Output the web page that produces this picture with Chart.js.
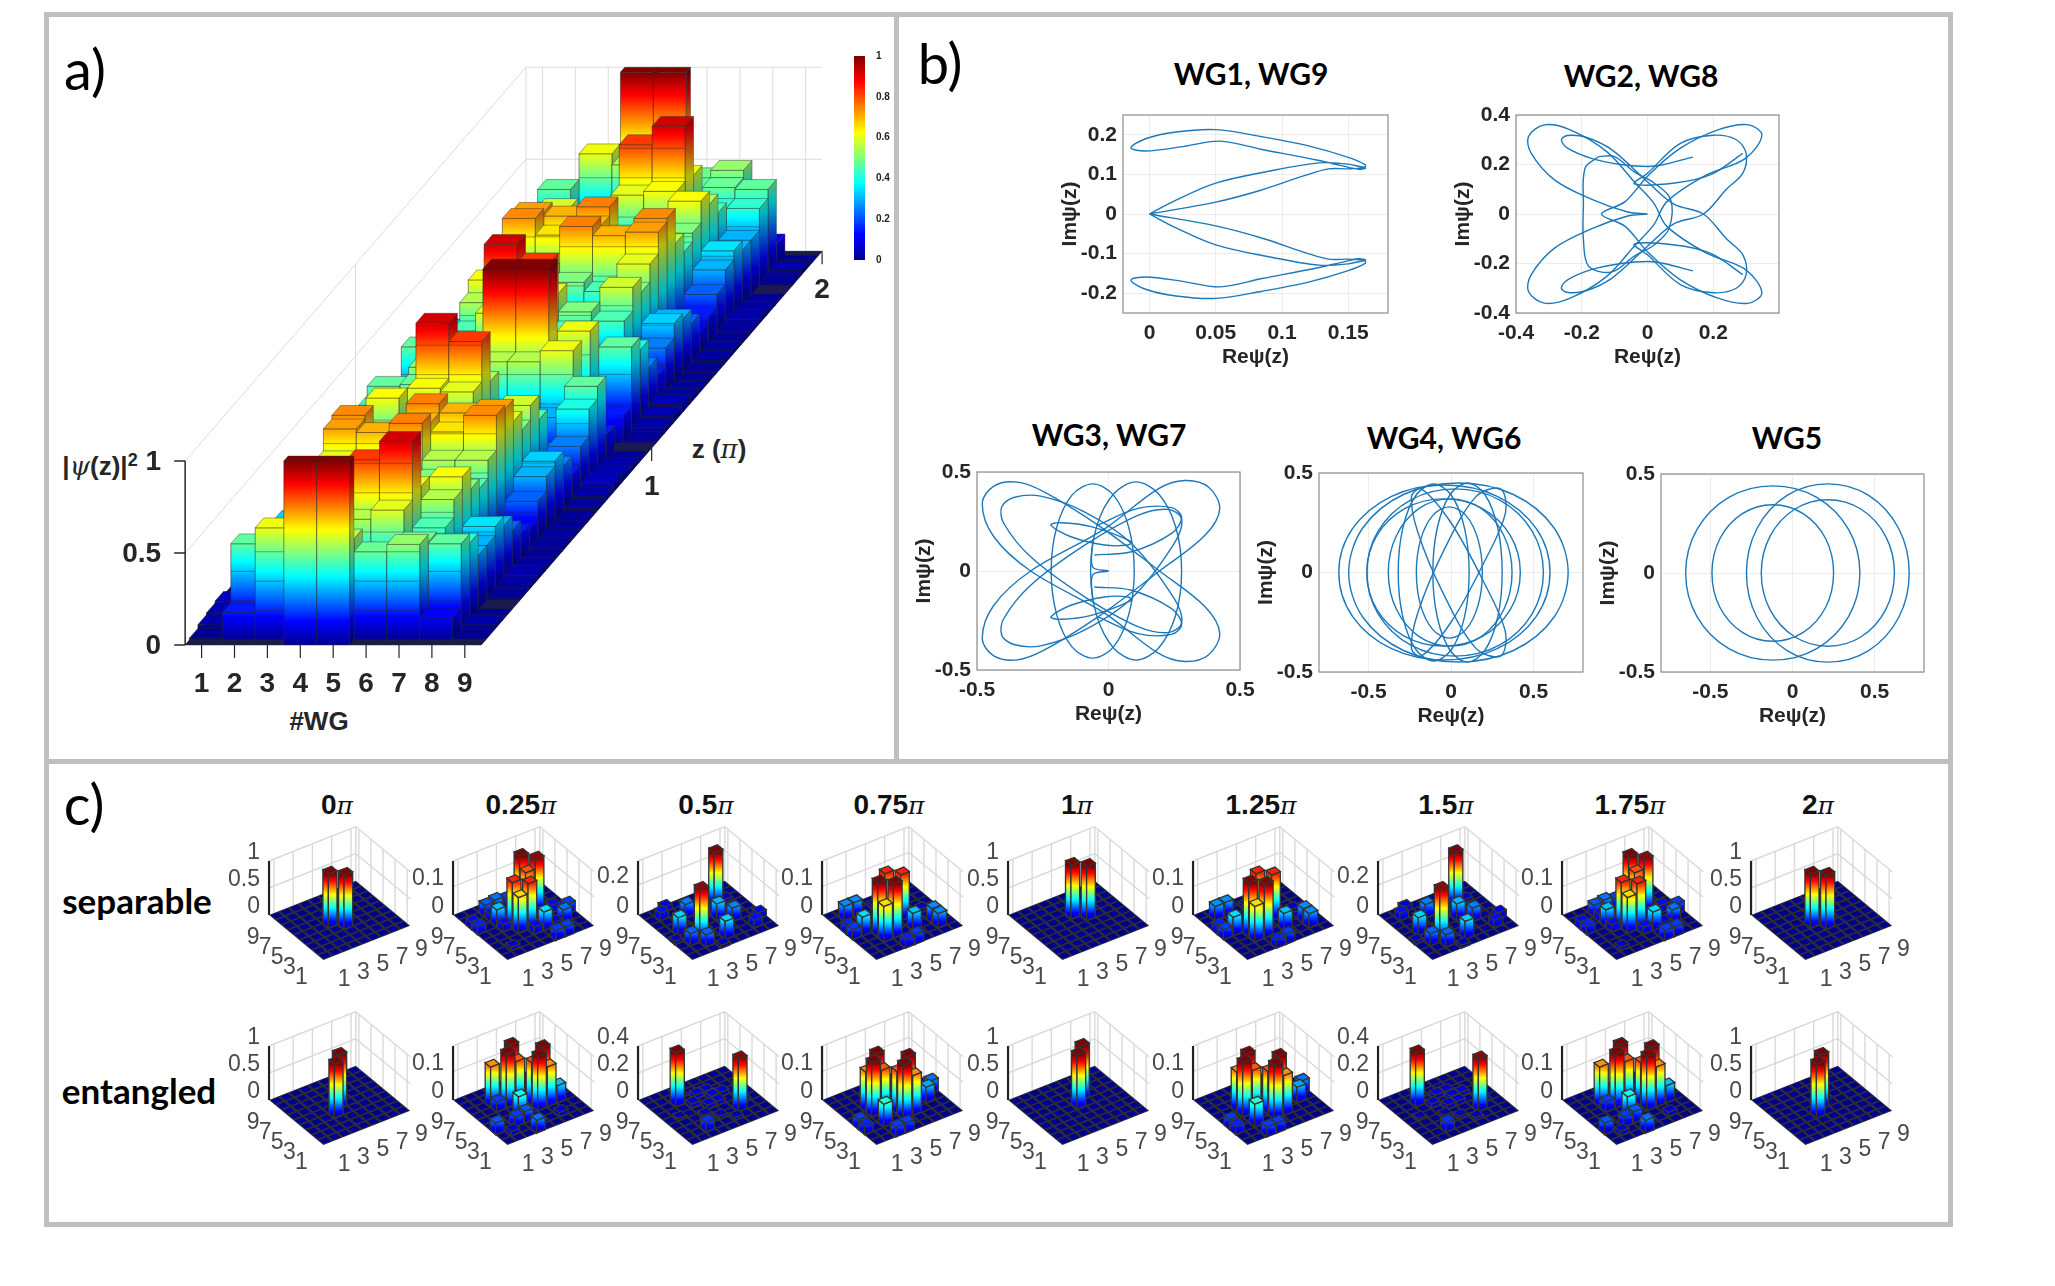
<!DOCTYPE html>
<html>
<head>
<meta charset="utf-8">
<title>Waveguide array</title>
<script src="https://cdn.jsdelivr.net/npm/chart.js@4"></script>
<style>
html, body { margin:0; padding:0; background:#fff; width:2055px; height:1286px; overflow:hidden; }
canvas { position:absolute; }
.frame { position:absolute; background:#bfbfbf; }
.lbl { position:absolute; transform:translate(-50%,-50%); white-space:nowrap; color:#000; }
.panel { font-family:Lato; font-size:56px; }
.wg { font-family:Lato; font-weight:700; font-size:30px; }
.row { font-family:Lato; font-weight:700; font-size:35px; }
.step { font-family:"Liberation Sans"; font-weight:700; font-size:28px; color:#111; }
.step i { font-family:"DejaVu Serif"; font-weight:400; font-size:25px; }
.ax { font-family:"Liberation Sans"; font-weight:700; font-size:26px; color:#262626; }
.ax i { font-family:"DejaVu Serif"; font-weight:400; }
</style>
</head>
<body>
<div class="frame" style="left:44px;top:12px;width:1909px;height:5px"></div>
<div class="frame" style="left:44px;top:1222px;width:1909px;height:5px"></div>
<div class="frame" style="left:44px;top:12px;width:5px;height:1215px"></div>
<div class="frame" style="left:1948px;top:12px;width:5px;height:1215px"></div>
<div class="frame" style="left:44px;top:759px;width:1909px;height:5px"></div>
<div class="frame" style="left:894px;top:12px;width:5px;height:750px"></div>
<div id="labels"></div>
<div id="charts"></div>
<script>
// ---- panel a: |psi(z)|^2 per waveguide, z = 0, 0.05, ... 2 (units of pi)
const zRows = [0,.05,.1,.15,.2,.25,.3,.35,.4,.45,.5,.55,.6,.65,.7,.75,.8,.85,.9,.95,1,1.05,1.1,1.15,1.2,1.25,1.3,1.35,1.4,1.45,1.5,1.55,1.6,1.65,1.7,1.75,1.8,1.85,1.9,1.95,2];
const wg1 = [0,.01,.03,.04,.05,.03,.02,.01,.01,.02,.02,.01,.02,.03,.02,.01,0,.01,.03,.005,0,.005,.03,.01,0,.01,.02,.03,.02,.01,.02,.02,.01,.01,.02,.03,.05,.04,.03,.01,0];
const wg2 = [0,.15,.47,.40,.25,.15,.25,.33,.30,.22,.12,.15,.22,.30,.35,.30,.30,.42,.47,.12,0,.12,.47,.42,.30,.30,.35,.30,.22,.15,.12,.22,.30,.33,.25,.15,.25,.40,.47,.15,0];
const wg3 = [0,.61,.30,.15,.22,.45,.58,.50,.60,.72,.74,.55,.45,.50,.62,.55,.45,.42,.48,.52,0,.52,.48,.42,.45,.55,.62,.50,.45,.55,.74,.72,.60,.50,.58,.45,.22,.15,.30,.61,0];
const wg4 = [1,.55,.25,.35,.45,.50,.42,.35,.45,.70,.65,.55,.50,.38,.45,.62,.92,.60,.35,.48,0,.48,.35,.60,.92,.62,.45,.38,.50,.55,.65,.70,.45,.35,.42,.50,.45,.35,.25,.55,1];
const wg5 = [1,.55,.30,.55,.82,.60,.40,.35,.50,.75,.70,.75,.50,.35,.40,.60,.82,.55,.30,.55,1,.55,.30,.55,.82,.60,.40,.35,.50,.75,.70,.75,.50,.35,.40,.60,.82,.55,.30,.55,1];
const wg6 = [0,.48,.35,.60,.92,.62,.45,.38,.50,.55,.65,.70,.45,.35,.42,.50,.45,.35,.25,.55,1,.55,.25,.35,.45,.50,.42,.35,.45,.70,.65,.55,.50,.38,.45,.62,.92,.60,.35,.48,0];
const wg7 = [0,.52,.48,.42,.45,.55,.62,.50,.45,.55,.74,.72,.60,.50,.58,.45,.22,.15,.30,.61,0,.61,.30,.15,.22,.45,.58,.50,.60,.72,.74,.55,.45,.50,.62,.55,.45,.42,.48,.52,0];
const wg8 = [0,.12,.47,.42,.30,.30,.35,.30,.22,.15,.12,.22,.30,.33,.25,.15,.25,.40,.47,.15,0,.15,.47,.40,.25,.15,.25,.33,.30,.22,.12,.15,.22,.30,.35,.30,.30,.42,.47,.12,0];
const wg9 = [0,.005,.03,.01,0,.01,.02,.03,.02,.01,.02,.02,.01,.01,.02,.03,.05,.04,.03,.01,0,.01,.03,.04,.05,.03,.02,.01,.01,.02,.02,.01,.02,.03,.02,.01,0,.01,.03,.005,0];
const wgColumns = [wg1,wg2,wg3,wg4,wg5,wg6,wg7,wg8,wg9];
const wgTicks = [1,2,3,4,5,6,7,8,9];
const heightTicks = [0,.5,1];
const zTicksA = [1,2];

// ---- panel b: Re/Im of psi along z, null = pen up
const curveWG1 = [[0,0],[.02,.035],[.05,.078],[.09,.108],[.128,.129],[.15,.126],[.162,.118],[.163,.124],[.15,.143],[.12,.172],[.085,.195],[.05,.213],[.02,.207],[-.003,.19],[-.014,.167],[-.003,.159],[.025,.17],[.053,.184],[.085,.163],[.128,.135],[.145,.122],[.158,.113],[.163,.116],[.15,.114],[.135,.114],[.118,.098],[.084,.06],[.05,.03],[0,0],null,
  [0,0],[.05,-.03],[.084,-.06],[.118,-.098],[.135,-.114],[.15,-.114],[.163,-.116],[.158,-.113],[.145,-.122],[.128,-.135],[.085,-.163],[.053,-.184],[.025,-.17],[-.003,-.159],[-.014,-.167],[-.003,-.19],[.02,-.207],[.05,-.213],[.085,-.195],[.12,-.172],[.15,-.143],[.163,-.124],[.162,-.118],[.15,-.126],[.128,-.129],[.09,-.108],[.05,-.078],[.02,-.035],[0,0]];
const curveWG2 = [[0,0],[-.06,.008],[-.171,.06],[-.283,.138],[-.354,.246],[-.362,.313],[-.314,.36],[-.235,.34],[-.124,.252],[-.037,.125],[.019,.044],[.059,-.05],[.178,-.157],[.297,-.224],[.348,-.318],[.305,-.361],[.21,-.338],[.098,-.264],[.003,-.157],[-.068,-.05],[-.14,0],[-.068,.05],[.003,.157],[.098,.264],[.21,.338],[.305,.361],[.348,.318],[.297,.224],[.178,.157],[.059,.05],[.019,-.044],[-.037,-.125],[-.124,-.252],[-.235,-.34],[-.314,-.36],[-.362,-.313],[-.354,-.246],[-.283,-.138],[-.171,-.06],[-.06,-.008],[0,0],null,
  [.138,.23],[.05,.2],[.003,.192],[-.076,.199],[-.171,.225],[-.243,.266],[-.262,.299],[-.243,.317],[-.187,.31],[-.108,.259],[0,.13],[.08,.04],[.17,0],[.24,-.1],[.29,-.165],[.3,-.245],[.27,-.3],[.2,-.318],[.1,-.285],[0,-.165],[-.04,-.122],[.083,-.125],[.194,-.16],[.29,-.245],null,
  [.138,-.23],[.05,-.2],[.003,-.192],[-.076,-.199],[-.171,-.225],[-.243,-.266],[-.262,-.299],[-.243,-.317],[-.187,-.31],[-.108,-.259],[0,-.13],[.08,-.04],[.17,0],[.24,.1],[.29,.165],[.3,.245],[.27,.3],[.2,.318],[.1,.285],[0,.165],[-.04,.122],[.083,.125],[.194,.16],[.29,.245],null,
  [-.148,.232],[-.19,.185],[-.195,.03],[-.195,-.103],[-.179,-.211],[-.108,-.234],[-.04,-.17],[.02,-.125],[.065,-.06],[.07,.06],[.02,.125],[-.04,.17],[-.1,.232],[-.148,.232]];
const curveWG3 = [[-.48,.34],[-.436,.429],[-.347,.449],[-.245,.4],[-.04,.232],[.194,0],[.367,-.18],[.423,-.314],[.38,-.424],[.29,-.457],[.189,-.415],[-.015,-.213],[-.296,0],[-.436,.173],[-.48,.34],null,
  [-.48,-.34],[-.436,-.429],[-.347,-.449],[-.245,-.4],[-.04,-.232],[.194,0],[.367,.18],[.423,.314],[.38,.424],[.29,.457],[.189,.415],[-.015,.213],[-.296,0],[-.436,-.173],[-.48,-.34],null,
  [-.406,.324],[-.36,.371],[-.258,.378],[-.092,.299],[.087,.139],[.253,-.146],[.278,-.264],[.227,-.311],[.112,-.281],[-.092,-.129],[-.296,.072],[-.398,.24],[-.406,.324],null,
  [-.406,-.324],[-.36,-.371],[-.258,-.378],[-.092,-.299],[.087,-.139],[.253,.146],[.278,.264],[.227,.311],[.112,.281],[-.092,.129],[-.296,-.072],[-.398,-.24],[-.406,-.324],null,
  [.098,0],[.077,.22],[.019,.383],[-.06,.44],[-.139,.383],[-.197,.22],[-.218,0],[-.197,-.22],[-.139,-.383],[-.06,-.44],[.019,-.383],[.077,-.22],[.098,0],null,
  [.278,0],[.255,.225],[.19,.39],[.105,.45],[.02,.39],[-.045,.225],[-.068,0],[-.045,-.225],[.02,-.39],[.105,-.45],[.19,-.39],[.255,-.225],[.278,0],null,
  [-.219,.232],[-.181,.244],[-.066,.224],[.087,.148],[.074,.131],[-.015,.131],[-.143,.173],[-.219,.232],null,
  [-.219,-.232],[-.181,-.244],[-.066,-.224],[.087,-.148],[.074,-.131],[-.015,-.131],[-.143,-.173],[-.219,-.232],null,
  [-.054,.081],[.087,.097],[.24,.19],[.278,.27],[.24,.32],[.112,.316],[-.04,.232],null,
  [-.054,-.081],[.087,-.097],[.24,-.19],[.278,-.27],[.24,-.32],[.112,-.316],[-.04,-.232],null,
  [0,0],[-.06,.02],[-.06,.15],null,[0,0],[-.06,-.02],[-.06,-.15]];
const curveWG4 = [[.6,0],[.517,.22],[.28,.383],[-.04,.44],[-.36,.383],[-.597,.22],[-.68,0],[-.597,-.22],[-.36,-.383],[-.04,-.44],[.28,-.383],[.517,-.22],[.6,0],null,
  [.71,0],[.624,.225],[.378,.392],[.045,.45],[-.288,.392],[-.534,.225],[-.62,0],[-.534,-.225],[-.288,-.392],[.045,-.45],[.378,-.392],[.624,-.225],[.71,0],null,
  [.56,0],[.49,.21],[.293,.365],[.025,.42],[-.243,.365],[-.44,.21],[-.51,0],[-.44,-.21],[-.243,-.365],[.025,-.42],[.293,-.365],[.49,-.21],[.56,0],null,
  [.42,0],[.36,.185],[.188,.322],[-.045,.37],[-.278,.322],[-.45,.185],[-.51,0],[-.45,-.185],[-.278,-.322],[-.045,-.37],[.188,-.322],[.36,-.185],[.42,0],null,
  [.37,0],[.321,.185],[.183,.322],[-.005,.37],[-.193,.322],[-.331,.185],[-.38,0],[-.331,-.185],[-.193,-.322],[-.005,-.37],[.183,-.322],[.321,-.185],[.37,0],null,
  [.11,0],[.082,.223],[.003,.387],[-.105,.445],[-.213,.387],[-.292,.223],[-.32,0],[-.292,-.223],[-.213,-.387],[-.105,-.445],[.003,-.387],[.082,-.223],[.11,0],null,
  [.31,0],[.283,.225],[.205,.392],[.1,.45],[-.005,.392],[-.083,.225],[-.11,0],[-.083,-.225],[-.005,-.392],[.1,-.45],[.205,-.392],[.283,-.225],[.31,0],null,
  [.19,0],[.164,.165],[.09,.287],[-.01,.33],[-.11,.287],[-.184,.165],[-.21,0],[-.184,-.165],[-.11,-.287],[-.01,-.33],[.09,-.287],[.164,-.165],[.19,0],null,
  [.3,-.42],[.33,-.3],[.2,-.05],[0,.25],[-.18,.42],[-.24,.38],[-.2,.2],[-.05,-.1],[.15,-.38],[.3,-.42],null,
  [.3,.42],[.33,.3],[.2,.05],[0,-.25],[-.18,-.42],[-.24,-.38],[-.2,-.2],[-.05,.1],[.15,.38],[.3,.42]];
const curveWG5 = [[.41,0],[.341,.22],[.145,.383],[-.12,.44],[-.385,.383],[-.581,.22],[-.65,0],[-.581,-.22],[-.385,-.383],[-.12,-.44],[.145,-.383],[.341,-.22],[.41,0],null,
  [.25,0],[.202,.173],[.065,.3],[-.12,.345],[-.305,.3],[-.442,.173],[-.49,0],[-.442,-.173],[-.305,-.3],[-.12,-.345],[.065,-.3],[.202,-.173],[.25,0],null,
  [.71,0],[.646,.225],[.463,.392],[.215,.45],[-.033,.392],[-.216,.225],[-.28,0],[-.216,-.225],[-.033,-.392],[.215,-.45],[.463,-.392],[.646,-.225],[.71,0],null,
  [.62,0],[.567,.185],[.418,.322],[.215,.37],[.013,.322],[-.137,.185],[-.19,0],[-.137,-.185],[.013,-.322],[.215,-.37],[.418,-.322],[.567,-.185],[.62,0]];

// ---- panel c: [x index, y index, value], everything else is flat
const sep0 = [[4,5,1],[5,4,1]];
const sep1 = [[6,5,1],[5,6,1]];
const sep025 = [[6,7,.19],[7,6,.185],[6,6,.15],[4,5,.16],[5,4,.16],[4,4,.125],[4,8,.045],[3,8,.04],[3,6,.06],[6,3,.065],[9,4,.035],[8,3,.045],[1,7,.025],[1,6,.03],[6,1,.035],[7,1,.035],[3,5,.025],[5,3,.025],[3,7,.025],[5,8,.035],[8,5,.025],[2,2,.012],[7,3,.015]];
const sep05 = [[7,7,.36],[3,3,.35],[4,7,.09],[7,4,.09],[2,5,.12],[5,2,.12],[6,5,.11],[5,6,.11],[2,3,.08],[3,2,.08],[2,8,.05],[8,2,.05],[9,3,.04],[3,9,.03],[6,6,.02],[4,4,.02],[8,7,.02],[1,4,.02],[4,1,.02]];
const sep075 = [[5,6,.16],[6,5,.16],[3,4,.19],[4,3,.19],[3,3,.125],[2,8,.05],[3,8,.05],[2,5,.065],[6,3,.06],[8,3,.05],[8,2,.05],[1,6,.03],[1,5,.035],[5,1,.035],[4,1,.03],[7,7,.015],[5,8,.012],[8,5,.012]];
const ent0 = [[4,4,1],[5,5,1]];
const ent1 = [[5,5,1],[6,6,1]];
const ent025 = [[5,7,.19],[7,5,.19],[4,6,.19],[6,4,.19],[3,7,.14],[5,6,.15],[7,4,.14],[6,5,.15],[4,4,.075],[3,6,.035],[1,3,.04],[3,3,.035],[4,1,.045],[4,3,.04],[8,4,.06],[2,2,.015],[7,2,.015]];
const ent05 = [[3,7,.4],[7,3,.39],[3,2,.07],[4,6,.03],[5,7,.03],[6,5,.03],[5,5,.03],[6,6,.03],[6,7,.03],[7,6,.03],[4,4,.02],[5,3,.02],[6,2,.02],[8,4,.02],[2,5,.015]];
const ent075 = [[4,6,.19],[6,4,.19],[3,5,.19],[5,3,.19],[3,6,.14],[6,3,.14],[4,5,.15],[5,4,.15],[3,3,.08],[1,4,.035],[1,3,.03],[3,1,.035],[4,1,.035],[8,4,.055],[9,5,.045],[7,7,.012]];
const stepTitles = ['0','0.25','0.5','0.75','1','1.25','1.5','1.75','2'];
const sepByStep = [sep0,sep025,sep05,sep075,sep1,sep075,sep05,sep025,sep0];
const entByStep = [ent0,ent025,ent05,ent075,ent1,ent075,ent05,ent025,ent0];
const sepMax = [1,.19,.36,.19,1,.19,.36,.19,1];
const entMax = [1,.19,.4,.19,1,.19,.4,.19,1];
const sepTicks = [[0,.5,1],[0,.1],[0,.2],[0,.1],[0,.5,1],[0,.1],[0,.2],[0,.1],[0,.5,1]];
const entTicks = [[0,.5,1],[0,.1],[0,.2,.4],[0,.1],[0,.5,1],[0,.1],[0,.2,.4],[0,.1],[0,.5,1]];
const indexTicks = [1,3,5,7,9];

const JET = [[0,[0,0,143]],[.125,[0,0,255]],[.375,[0,255,255]],[.625,[255,255,0]],[.875,[255,0,0]],[1,[128,0,0]]];
function jet(t) {
    t = Math.min(1, Math.max(0, t));
    for (let i = 1; i < JET.length; i++) {
        if (t <= JET[i][0]) {
            const f = (t - JET[i-1][0]) / (JET[i][0] - JET[i-1][0]);
            const c = JET[i-1][1].map((v, k) => Math.round(v + (JET[i][1][k] - v) * f));
            return `rgb(${c[0]},${c[1]},${c[2]})`;
        }
    }
    return 'rgb(128,0,0)';
}
function faceGrad(ctx, y0, y1, t) {
    const g = ctx.createLinearGradient(0, y0, 0, y1);
    JET.forEach(s => { if (s[0] < t) g.addColorStop(s[0] / t, jet(s[0])); });
    g.addColorStop(1, jet(t));
    return g;
}
function poly(ctx, pts, fill, stroke, lw) {
    ctx.beginPath();
    pts.forEach((p, i) => i ? ctx.lineTo(p[0], p[1]) : ctx.moveTo(p[0], p[1]));
    ctx.closePath();
    if (fill) { ctx.fillStyle = fill; ctx.fill(); }
    if (stroke) { ctx.strokeStyle = stroke; ctx.lineWidth = lw || 1; ctx.stroke(); }
}
function seg(ctx, a, b, color, lw) {
    ctx.beginPath(); ctx.moveTo(a[0], a[1]); ctx.lineTo(b[0], b[1]);
    ctx.strokeStyle = color; ctx.lineWidth = lw || 1; ctx.stroke();
}
function hiddenScale(min, max) {
    return { type: 'linear', display: false, min, max };
}
const nopad = s => { s.paddingLeft = s.paddingRight = s.paddingTop = s.paddingBottom = 0; };

const chartsDiv = document.getElementById('charts');
function addCanvas(left, top, w, h) {
    const c = document.createElement('canvas');
    c.width = w; c.height = h;
    c.style.left = left + 'px'; c.style.top = top + 'px';
    c.style.width = w + 'px'; c.style.height = h + 'px';
    chartsDiv.appendChild(c);
    return c.getContext('2d');
}
const base = { responsive: false, animation: false, devicePixelRatio: 1, plugins: { legend: { display: false }, tooltip: { enabled: false } } };

// ---- panel a
const A_ZX = 5.18, A_ZY = 1.07;   // oblique projection of the z axis
const surfacePlugin = {
    id: 'surface',
    afterDatasetsDraw(chart) {
        const { ctx, scales: { x, y } } = chart;
        const P = (wg, z, h) => [x.getPixelForValue(wg + A_ZX * z), y.getPixelForValue(h + A_ZY * z)];
        ctx.save();
        const wall = '#dcdcdc';
        heightTicks.slice(1).forEach(h => {
            seg(ctx, P(.5,0,h), P(.5,2,h), wall);
            seg(ctx, P(.5,2,h), P(9.5,2,h), wall);
        });
        seg(ctx, P(.5,1,0), P(.5,1,1), wall);
        seg(ctx, P(.5,2,0), P(.5,2,1), wall);
        wgTicks.forEach(i => seg(ctx, P(i,2,0), P(i,2,1), wall));

        poly(ctx, [P(.5,0,0), P(9.5,0,0), P(9.5,2,0), P(.5,2,0)], jet(0));
        for (let k = zRows.length - 1; k >= 0; k--) {
            const z0 = Math.max(0, zRows[k] - .025), z1 = Math.min(2, zRows[k] + .025);
            wgColumns.forEach((col, i) => {
                const h = col[k], l = i + .5, r = i + 1.5;
                if (h < .005) {
                    poly(ctx, [P(l,z0,0), P(r,z0,0), P(r,z1,0), P(l,z1,0)], '#1a1a50', 'rgba(40,40,40,.7)', .7);
                    return;
                }
                const yb = P(l,z0,0)[1], yt = P(l,z0,h)[1];
                const dy = P(l,z1,0)[1] - yb;
                poly(ctx, [P(r,z0,0), P(r,z1,0), P(r,z1,h), P(r,z0,h)], faceGrad(ctx, yb + dy/2, yt + dy/2, h));
                poly(ctx, [P(r,z0,0), P(r,z1,0), P(r,z1,h), P(r,z0,h)], 'rgba(0,0,30,.28)', 'rgba(50,50,50,.55)', .7);
                poly(ctx, [P(l,z0,0), P(r,z0,0), P(r,z0,h), P(l,z0,h)], faceGrad(ctx, yb, yt, h), 'rgba(40,40,40,.65)', .8);
                if (h < .95) {
                    for (let m = .16; m < h; m += .16) seg(ctx, P(l,z0,m), P(r,z0,m), 'rgba(40,40,40,.5)', .8);
                }
                poly(ctx, [P(l,z0,h), P(r,z0,h), P(r,z1,h), P(l,z1,h)], jet(h), h < .1 ? 'rgba(30,30,30,.8)' : 'rgba(40,40,40,.6)', .7);
            });
        }

        const ink = '#262626';
        seg(ctx, P(.5,0,0), P(.5,0,1), ink, 1.5);
        ctx.fillStyle = ink;
        ctx.font = 'bold 28px "Liberation Sans"';
        ctx.textBaseline = 'middle';
        ctx.textAlign = 'right';
        heightTicks.forEach(h => {
            const p = P(.5,0,h);
            seg(ctx, p, [p[0]-11, p[1]], ink, 1.5);
            ctx.fillText(String(h), p[0]-24, p[1]+1);
        });
        ctx.textAlign = 'center';
        wgTicks.forEach(i => {
            const p = P(i,0,0);
            seg(ctx, p, [p[0], p[1]+13], ink, 1.2);
            ctx.fillText(String(i), p[0], p[1]+39);
        });
        zTicksA.forEach(z => {
            const p = P(9.5,z,0);
            seg(ctx, p, [p[0], p[1]+13], ink, 1.2);
            ctx.fillText(String(z), p[0], p[1]+39);
        });
        ctx.restore();
    }
};
new Chart(addCanvas(110, 40, 750, 660), {
    type: 'scatter',
    data: { datasets: wgColumns.map((col, i) => ({
        data: col.map((h, k) => ({ x: i + 1 + A_ZX * zRows[k], y: h + A_ZY * zRows[k] })),
        pointRadius: 0
    })) },
    options: { ...base, scales: { x: hiddenScale(-1.784, 21.012), y: hiddenScale(-.299, 3.288) } },
    plugins: [surfacePlugin]
});

// colour bar
new Chart(addCanvas(854, 50, 52, 216), {
    type: 'bar',
    data: { labels: [''], datasets: [{ data: [1], barPercentage: 1, categoryPercentage: 1,
        backgroundColor: c => {
            const a = c.chart.chartArea;
            return a ? faceGrad(c.chart.ctx, a.bottom, a.top, 1) : jet(0);
        } }] },
    options: { ...base, layout: { padding: { top: 6, bottom: 6 } },
        scales: {
            x: { display: false },
            y: { position: 'right', min: 0, max: 1, grid: { display: false }, border: { display: false },
                afterFit: s => { s.width = 41; nopad(s); },
                ticks: { stepSize: .2, padding: 3, color: '#222', font: { family: 'Liberation Sans', weight: 'bold', size: 10 }, callback: v => String(+v.toFixed(1)) } }
        } }
});

// ---- panel b
const boxPlugin = {
    id: 'box',
    afterDraw(chart) {
        const a = chart.chartArea, ctx = chart.ctx;
        ctx.save(); ctx.strokeStyle = '#8c8c8c'; ctx.lineWidth = 1.2;
        ctx.strokeRect(a.left, a.top, a.right - a.left, a.bottom - a.top);
        ctx.restore();
    }
};
// a closed strand gets its neighbours repeated as invisible points, else the spline leaves a corner at the seam
function wrapLoops(curve) {
    const out = [];
    let strand = [];
    const flush = () => {
        const n = strand.length;
        const closed = n > 4 && strand[0][0] === strand[n-1][0] && strand[0][1] === strand[n-1][1];
        if (closed) out.push([strand[n-2][0], strand[n-2][1], true], ...strand, [strand[1][0], strand[1][1], true]);
        else out.push(...strand);
        strand = [];
    };
    curve.forEach(p => {
        if (p) { strand.push(p); } else { flush(); out.push(null); }
    });
    flush();
    return out;
}
function phasePlot(curve, box, xr, yr, xTicks, yTicks) {
    const pad = { l: 65, t: 14, r: 22, b: 57 };
    const ctx = addCanvas(box[0] - pad.l, box[1] - pad.t, box[2] - box[0] + pad.l + pad.r, box[3] - box[1] + pad.t + pad.b);
    const tickFont = { family: 'Liberation Sans', weight: 'bold', size: 21 };
    const titleFont = { family: 'Liberation Sans', weight: 'bold', size: 21 };
    const points = curve.map(p => p ? { x: p[0], y: p[1], ghost: !!p[2] } : { x: null, y: null });
    new Chart(ctx, {
        type: 'line',
        data: { datasets: [{
            data: points,
            spanGaps: false, pointRadius: 0, borderColor: '#1b78bb', borderWidth: 1.4, tension: .34, fill: false,
            segment: { borderColor: c => (points[c.p0DataIndex].ghost || points[c.p1DataIndex].ghost) ? 'rgba(0,0,0,0)' : undefined }
        }] },
        options: { ...base,
            layout: { padding: { top: pad.t, right: pad.r } },
            scales: {
                x: { type: 'linear', min: xr[0], max: xr[1],
                    afterBuildTicks: s => { s.ticks = xTicks.map(v => ({ value: v })); },
                    afterFit: s => { s.height = pad.b; nopad(s); },
                    grid: { color: '#ececec', drawTicks: false }, border: { display: false },
                    ticks: { color: '#262626', font: tickFont, padding: 8, maxRotation: 0, autoSkip: false, callback: v => String(v) },
                    title: { display: true, text: 'Reψ(z)', color: '#262626', font: titleFont, padding: 0 } },
                y: { type: 'linear', min: yr[0], max: yr[1],
                    afterBuildTicks: s => { s.ticks = yTicks.map(v => ({ value: v })); },
                    afterFit: s => { s.width = pad.l; nopad(s); },
                    grid: { color: '#ececec', drawTicks: false }, border: { display: false },
                    ticks: { color: '#262626', font: tickFont, padding: 6, autoSkip: false, callback: v => String(v) },
                    title: { display: true, text: 'Imψ(z)', color: '#262626', font: titleFont, padding: 0 } }
            } },
        plugins: [boxPlugin]
    });
}
phasePlot(curveWG1, [1123,115,1388,313], [-.02,.18], [-.25,.25], [0,.05,.1,.15], [-.2,-.1,0,.1,.2]);
phasePlot(curveWG2, [1516,115,1779,313], [-.4,.4], [-.4,.4], [-.4,-.2,0,.2], [-.4,-.2,0,.2,.4]);
phasePlot(wrapLoops(curveWG3), [977,472,1240,670], [-.5,.5], [-.5,.5], [-.5,0,.5], [-.5,0,.5]);
phasePlot(wrapLoops(curveWG4), [1319,473,1583,672], [-.8,.8], [-.5,.5], [-.5,0,.5], [-.5,0,.5]);
phasePlot(wrapLoops(curveWG5), [1661,474,1924,672], [-.8,.8], [-.5,.5], [-.5,0,.5], [-.5,0,.5]);

// ---- panel c
const CX = [9.64, -6.04], CY = [3.81, 5], C_H = 54;
const barsPlugin = {
    id: 'bars3d',
    afterDatasetsDraw(chart, args, opts) {
        const { ctx, scales: { x, y } } = chart;
        const zmax = opts.zmax;
        const V = (a, b, t) => [x.getPixelForValue(CX[0]*a + CX[1]*b), y.getPixelForValue(CY[0]*a + CY[1]*b + t*C_H)];
        ctx.save();
        const wall = '#d9d9d9';
        opts.ticks.slice(1).concat(opts.ticks.includes(zmax) ? [] : [zmax]).forEach(v => {
            const t = v / zmax;
            seg(ctx, V(0,9,t), V(9,9,t), wall, 1.4);
            seg(ctx, V(9,9,t), V(9,0,t), wall, 1.4);
        });
        indexTicks.forEach(i => {
            seg(ctx, V(i-.5,9,0), V(i-.5,9,1), wall, 1.4);
            seg(ctx, V(9,i-.5,0), V(9,i-.5,1), wall, 1.4);
        });
        seg(ctx, V(9,9,0), V(9,9,1), wall, 1.4);

        poly(ctx, [V(0,0,0), V(9,0,0), V(9,9,0), V(0,9,0)], '#2b2b3a');
        const lookup = {};
        chart.data.datasets[0].data.forEach(d => { lookup[d.ix + '_' + d.iy] = d.h; });
        const tile = .37, hw = .45, edge = '#333';
        for (let ix = 9; ix >= 1; ix--) {
            for (let iy = 9; iy >= 1; iy--) {
                const h = lookup[ix + '_' + iy];
                if (!h) {
                    const a0 = ix-.5-tile, a1 = ix-.5+tile, b0 = iy-.5-tile, b1 = iy-.5+tile;
                    poly(ctx, [V(a0,b0,0), V(a1,b0,0), V(a1,b1,0), V(a0,b1,0)], jet(0));
                    continue;
                }
                const a0 = ix-.5-hw, a1 = ix-.5+hw, b0 = iy-.5-hw, b1 = iy-.5+hw;
                const t = Math.min(1, h / zmax);
                const yb = V(a0,b0,0)[1], yt = V(a0,b0,t)[1];
                poly(ctx, [V(a0,b0,0), V(a0,b1,0), V(a0,b1,t), V(a0,b0,t)], faceGrad(ctx, yb, yt, t), edge, 1.3);
                poly(ctx, [V(a0,b0,0), V(a1,b0,0), V(a1,b0,t), V(a0,b0,t)], faceGrad(ctx, yb, yt, t), edge, 1.3);
                poly(ctx, [V(a0,b0,t), V(a1,b0,t), V(a1,b1,t), V(a0,b1,t)], jet(t), edge, 1.3);
            }
        }
        const left = V(0,9,0);
        seg(ctx, left, V(0,9,1), '#222', 2.2);
        ctx.fillStyle = '#4a4a4a';
        ctx.font = '23px "Liberation Sans"';
        ctx.textBaseline = 'middle';
        ctx.textAlign = 'right';
        opts.ticks.forEach(v => {
            const p = V(0,9,v / zmax);
            ctx.fillText(String(v), p[0]-9, p[1]-8);
        });
        ctx.textAlign = 'center';
        indexTicks.forEach(i => {
            const p = V(0,i-.5,0);
            ctx.fillText(String(i), p[0]-19, p[1]+20);
            const q = V(i-.5,0,0);
            ctx.fillText(String(i), q[0]+16, q[1]+22);
        });
        ctx.restore();
    }
};
function stemPlot(corner, rowY, bars, zmax, ticks) {
    const w = 230, h = 180;
    const ctx = addCanvas(Math.round(corner - 65), rowY - 95, w, h);
    const xMin = -65 - 54.4, yMax = 95 + 45;
    new Chart(ctx, {
        type: 'scatter',
        data: { datasets: [{
            data: bars.map(b => ({
                x: CX[0]*(b[0]-.5) + CX[1]*(b[1]-.5),
                y: CY[0]*(b[0]-.5) + CY[1]*(b[1]-.5) + b[2]/zmax*C_H,
                ix: b[0], iy: b[1], h: b[2] })),
            pointRadius: 0
        }] },
        options: { ...base,
            plugins: { ...base.plugins, bars3d: { zmax, ticks } },
            scales: { x: hiddenScale(xMin, xMin + w), y: hiddenScale(yMax - h, yMax) } },
        plugins: [barsPlugin]
    });
}
const cornerX = [268.6,452.7,638,822,1008,1193,1377.5,1562,1751];
cornerX.forEach((cx, i) => {
    stemPlot(cx, 915, sepByStep[i], sepMax[i], sepTicks[i]);
    stemPlot(cx, 1100, entByStep[i], entMax[i], entTicks[i]);
});

// ---- text
const titleX = [337,521,706,889,1077,1261,1446,1630,1818];
const labels = [
    ['a)', 85, 68, 'panel'], ['b)', 940, 62, 'panel'], ['c)', 84, 803, 'panel'],
    ['WG1, WG9', 1251, 73, 'wg'], ['WG2, WG8', 1641, 75, 'wg'],
    ['WG3, WG7', 1109, 434, 'wg'], ['WG4, WG6', 1444, 437, 'wg'], ['WG5', 1787, 437, 'wg'],
    ['separable', 137, 900, 'row'], ['entangled', 139, 1090, 'row'],
    ['|<i>ψ</i>(z)|<sup style="font-size:18px">2</sup>', 100, 466, 'ax'],
    ['#WG', 319, 721, 'ax'], ['z (<i>π</i>)', 719, 449, 'ax']
];
stepTitles.forEach((t, i) => labels.push([t + '<i>π</i>', titleX[i], 805, 'step']));
const labelsDiv = document.getElementById('labels');
labels.forEach(l => {
    const d = document.createElement('div');
    d.className = 'lbl ' + l[3];
    d.style.left = l[1] + 'px'; d.style.top = l[2] + 'px';
    d.innerHTML = l[0];
    labelsDiv.appendChild(d);
});
</script>
</body>
</html>
